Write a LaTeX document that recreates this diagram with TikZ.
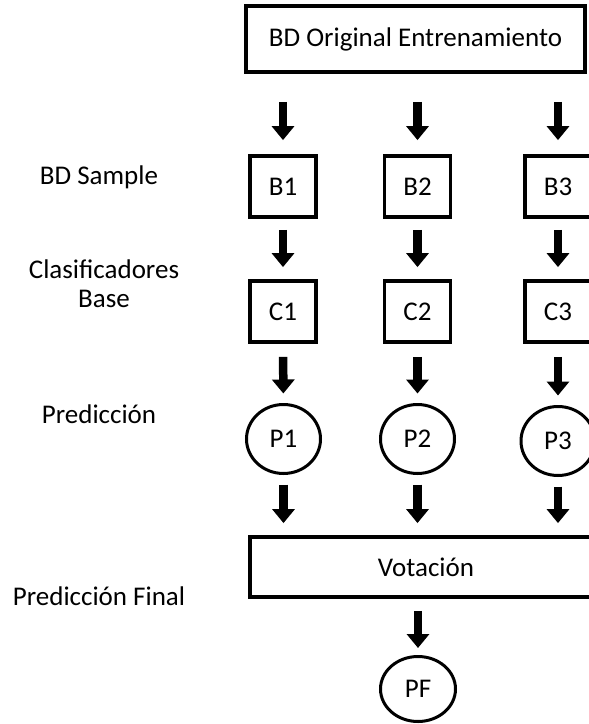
\documentclass[tikz,border=0pt]{standalone}
\usepackage{fontspec}
\setmainfont{Carlito}
\usetikzlibrary{arrows.meta,shapes.geometric}
\begin{document}
\begin{tikzpicture}[x=1pt,y=-1pt,
  txt/.style={font=\fontsize{27}{32}\selectfont},
  lbl/.style={txt, inner sep=0pt, anchor=base},
  box/.style={txt, draw, line width=3.8pt, inner sep=0pt,
    minimum width=66pt, minimum height=61pt},
  pred/.style={txt, draw, ellipse, line width=3pt, inner sep=0pt,
    minimum width=74pt, minimum height=69pt},
  flow/.style={draw=black, line width=8.5pt,
    -{Triangle[width=22pt,length=14pt]}}
]
\useasboundingbox (0,0) rectangle (589,724);

% stage labels
\node[lbl] (lsample) at (99,184) {BD Sample};
\node[lbl] (lclasif) at (104,278) {Clasificadores};
\node[lbl] (lbase)   at (104,307) {Base};
\node[lbl] (lpred)   at (99,423) {Predicción};
\node[lbl] (lfinal)  at (99,605) {Predicción Final};

% training data
\node[box, minimum width=339pt, minimum height=66pt] (top) at (415.5,39) {BD Original Entrenamiento};

% samples
\node[box] (b1) at (283,186.5) {B1};
\node[box] (b2) at (417.5,186.5) {B2};
\node[box] (b3) at (558,186.5) {B3};

% base classifiers
\node[box] (c1) at (283,311.5) {C1};
\node[box] (c2) at (417.5,311.5) {C2};
\node[box] (c3) at (558,311.5) {C3};

% predictions
\node[pred] (p1) at (283.5,439) {P1};
\node[pred] (p2) at (417.5,439) {P2};
\node[pred] (p3) at (558,441) {P3};

% voting and final prediction
\node[box, minimum width=352pt, minimum height=60pt] (vot) at (426,567) {Votación};
\node[pred, minimum width=75pt, minimum height=65pt] (pf) at (418,689) {PF};

% arrows
\foreach \n in {1,2,3}{
  \draw[flow, shorten <=28pt, shorten >=14pt] (top.south -| b\n) -- (b\n.north);
  \draw[flow, shorten <=11pt, shorten >=12pt] (b\n) -- (c\n);
  \draw[flow, shorten <=13pt, shorten >=9.5pt] (c\n) -- (p\n);
  \draw[flow, shorten <=9.5pt, shorten >=12pt] (p\n.south) -- (p\n.south |- vot.north);
}
\draw[flow, shorten <=12pt, shorten >=7pt] (vot.south -| pf) -- (pf.north);
\end{tikzpicture}
\end{document}
